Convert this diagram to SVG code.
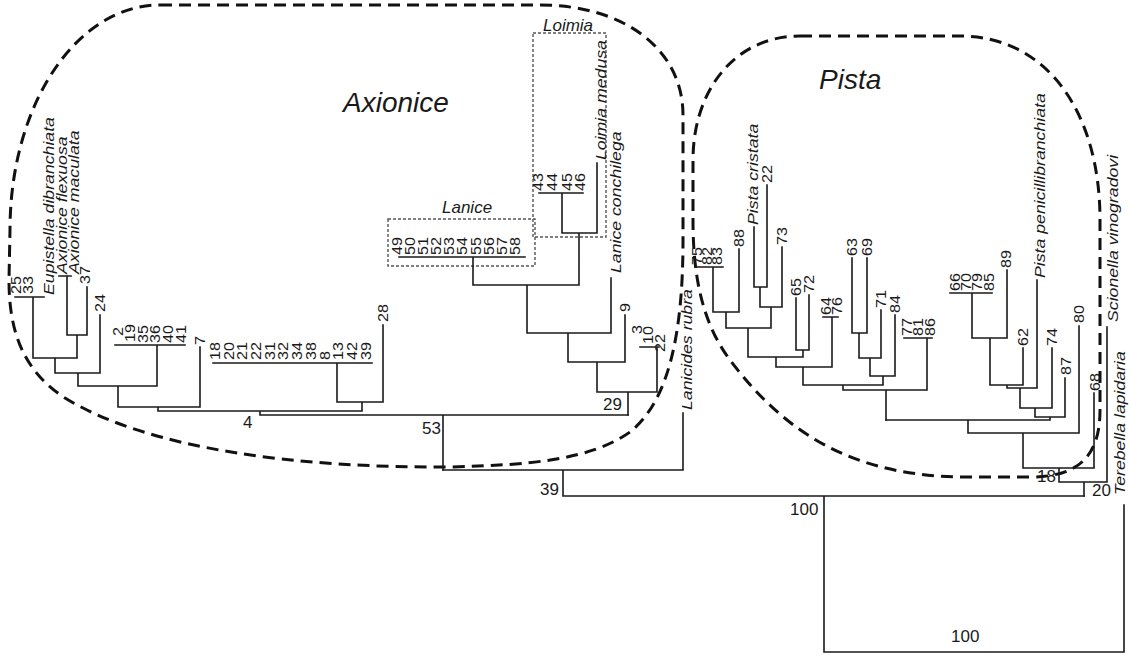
<svg xmlns="http://www.w3.org/2000/svg" width="1129" height="655" viewBox="0 0 1129 655">
<style>
.t{fill:none;stroke:#1a1a1a;stroke-width:1.6;stroke-linecap:square}
.o{fill:none;stroke:#111;stroke-width:3;stroke-dasharray:12 7}
.b{fill:none;stroke:#555;stroke-width:1.4;stroke-dasharray:3 2}
text{font-family:"Liberation Sans",Arial,sans-serif;fill:#1a1a1a}
.n{font-size:14px}
.s{font-size:15px;font-style:italic}
.v{font-size:17px}
.g{font-size:28px;font-style:italic}
.l{font-size:17px;font-style:italic}
</style>
<rect width="1129" height="655" fill="#fff"/>
<g id="outlines">
<path class="o" d="M160,5 L540,5 C625,5 683,50 683,115 L683,240 C683,330 670,400 630,432 C590,460 530,465 450,467 C300,468 150,450 65,398 C22,370 9,330 9,280 L10,230 C10,104 77,5 160,5 Z"/>
<path class="o" d="M800,36 L960,36 C1045,36 1100,110 1100,220 L1100,410 C1100,455 1080,477 1030,477 L960,477 C860,475 790,440 730,360 C700,320 693,270 693,220 L693,160 C693,90 735,36 800,36 Z"/>
<rect class="b" x="388" y="219" width="147" height="47"/>
<rect class="b" x="533" y="33" width="73" height="204"/>
</g>
<g id="connectors">
<path class="t" d="M15,297H44 M33,297V358 M59,276H71 M67,276V335 M87,287V335 M67,335H87 M77,335V358 M33,358H77 M55,358V373 M100,315V373 M55,373H100 M78,373V386 M115,345H185 M157,345V386 M78,386H157 M118,386V407 M200,347V407 M118,407H200 M158,407V411 M213,363H372 M337,363V402 M383,325V402 M337,402H383 M362,402V411 M158,411H362 M260,411V415 M260,415H628 M443,415V470"/>
<path class="t" d="M399,257H525 M473,257V285 M539,193H583 M562,193V233 M597,163V233 M562,233H597 M579,233V285 M473,285H579 M527,285V333 M611,278V333 M527,333H611 M568,333V362 M625,315V362 M568,362H625 M597,362V392 M640,347H659 M657,347V392 M597,392H657 M628,392V415"/>
<path class="t" d="M443,470H683 M683,413V470 M563,470V496 M563,496H1084 M824,496V652 M824,652H1124 M1124,505V652"/>
<path class="t" d="M695,267H723 M713,267V312 M739,249V312 M713,312H739 M726,312V328 M754,227V287 M767,185V287 M754,287H767 M760,287V307 M782,247V307 M760,307H782 M771,307V328 M726,328H771 M748,328V357 M796,298V350 M809,295V350 M796,350H809 M803,350V357 M748,357H803 M776,357V367 M823,317H838 M832,317V367 M776,367H832 M803,367V385 M852,258V333 M867,258V333 M852,333H867 M859,333V358 M881,310V358 M859,358H881 M870,358V376 M895,315V376 M870,376H895 M883,376V385 M803,385H883 M843,385V390 M904,338H932 M927,338V390 M843,390H927 M886,390V420"/>
<path class="t" d="M950,293H992 M972,293V338 M1007,270V338 M972,338H1007 M990,338V385 M1023,348V385 M990,385H1023 M1007,385V388 M1037,280V388 M1007,388H1037 M1020,388V408 M1052,348V408 M1020,408H1052 M1035,408V417 M1065,378V417 M1035,417H1065 M1050,417V420 M886,420H1050 M968,420V433 M1079,326V433 M968,433H1079 M1023,433V468 M1094,393V468 M1023,468H1094 M1059,468V482 M1107,327V482 M1059,482H1107 M1084,482V496"/>
</g>
<g id="group-labels">
<text class="g" x="343" y="112">Axionice</text>
<text class="g" x="819" y="89">Pista</text>
<text class="l" x="442" y="213">Lanice</text>
<text class="l" x="543" y="31">Loimia</text>
</g>
<g id="support">
<text class="v" x="243" y="428">4</text>
<text class="v" x="422" y="434">53</text>
<text class="v" x="603" y="410">29</text>
<text class="v" x="540" y="495">39</text>
<text class="v" x="790" y="515">100</text>
<text class="v" x="951" y="642">100</text>
<text class="v" x="1092" y="496">20</text>
<text class="v" x="1037" y="482">18</text>
</g>
<g id="taxa-axionice">
<text class="n" transform="translate(21,294) rotate(-90) scale(1.15,1)">25</text>
<text class="n" transform="translate(33,294) rotate(-90) scale(1.15,1)">33</text>
<text class="s" transform="translate(54,295) rotate(-90) scale(1.18,1)">Eupistella dibranchiata</text>
<text class="s" transform="translate(67,274) rotate(-90) scale(1.18,1)">Axionice flexuosa</text>
<text class="s" transform="translate(79,274) rotate(-90) scale(1.18,1)">Axionice maculata</text>
<text class="n" transform="translate(90,284) rotate(-90) scale(1.15,1)">37</text>
<text class="n" transform="translate(105,312) rotate(-90) scale(1.15,1)">24</text>
<text class="n" transform="translate(123,336) rotate(-90) scale(1.15,1)">2</text>
<text class="n" transform="translate(135,342) rotate(-90) scale(1.15,1)">19</text>
<text class="n" transform="translate(148,343) rotate(-90) scale(1.15,1)">35</text>
<text class="n" transform="translate(160,343) rotate(-90) scale(1.15,1)">36</text>
<text class="n" transform="translate(173,343) rotate(-90) scale(1.15,1)">40</text>
<text class="n" transform="translate(186,343) rotate(-90) scale(1.15,1)">41</text>
<text class="n" transform="translate(205,345) rotate(-90) scale(1.15,1)">7</text>
<text class="n" transform="translate(220,360) rotate(-90) scale(1.15,1)">18</text>
<text class="n" transform="translate(234,360) rotate(-90) scale(1.15,1)">20</text>
<text class="n" transform="translate(247,360) rotate(-90) scale(1.15,1)">21</text>
<text class="n" transform="translate(261,360) rotate(-90) scale(1.15,1)">22</text>
<text class="n" transform="translate(275,360) rotate(-90) scale(1.15,1)">31</text>
<text class="n" transform="translate(288,360) rotate(-90) scale(1.15,1)">32</text>
<text class="n" transform="translate(302,360) rotate(-90) scale(1.15,1)">34</text>
<text class="n" transform="translate(316,360) rotate(-90) scale(1.15,1)">38</text>
<text class="n" transform="translate(330,360) rotate(-90) scale(1.15,1)">8</text>
<text class="n" transform="translate(343,360) rotate(-90) scale(1.15,1)">13</text>
<text class="n" transform="translate(357,360) rotate(-90) scale(1.15,1)">42</text>
<text class="n" transform="translate(371,360) rotate(-90) scale(1.15,1)">39</text>
<text class="n" transform="translate(388,322) rotate(-90) scale(1.15,1)">28</text>
</g>
<g id="taxa-lanice-loimia">
<text class="n" transform="translate(402,255) rotate(-90) scale(1.15,1)">49</text>
<text class="n" transform="translate(415,255) rotate(-90) scale(1.15,1)">50</text>
<text class="n" transform="translate(428,255) rotate(-90) scale(1.15,1)">51</text>
<text class="n" transform="translate(441,255) rotate(-90) scale(1.15,1)">52</text>
<text class="n" transform="translate(454,255) rotate(-90) scale(1.15,1)">53</text>
<text class="n" transform="translate(467,255) rotate(-90) scale(1.15,1)">54</text>
<text class="n" transform="translate(481,255) rotate(-90) scale(1.15,1)">55</text>
<text class="n" transform="translate(494,255) rotate(-90) scale(1.15,1)">56</text>
<text class="n" transform="translate(507,255) rotate(-90) scale(1.15,1)">57</text>
<text class="n" transform="translate(520,255) rotate(-90) scale(1.15,1)">58</text>
<text class="n" transform="translate(543,191) rotate(-90) scale(1.15,1)">43</text>
<text class="n" transform="translate(557,191) rotate(-90) scale(1.15,1)">44</text>
<text class="n" transform="translate(572,191) rotate(-90) scale(1.15,1)">45</text>
<text class="n" transform="translate(585,191) rotate(-90) scale(1.15,1)">46</text>
<text class="s" transform="translate(606,160) rotate(-90) scale(1.18,1)">Loimia medusa</text>
<text class="s" transform="translate(621,273) rotate(-90) scale(1.18,1)">Lanice conchilega</text>
<text class="n" transform="translate(630,312) rotate(-90) scale(1.15,1)">9</text>
<text class="n" transform="translate(642,334) rotate(-90) scale(1.15,1)">3</text>
<text class="n" transform="translate(653,344) rotate(-90) scale(1.15,1)">10</text>
<text class="n" transform="translate(665,352) rotate(-90) scale(1.15,1)">22</text>
<text class="s" transform="translate(692,410) rotate(-90) scale(1.18,1)">Lanicides rubra</text>
</g>
<g id="taxa-pista">
<text class="n" transform="translate(702,265) rotate(-90) scale(1.15,1)">75</text>
<text class="n" transform="translate(712,265) rotate(-90) scale(1.15,1)">82</text>
<text class="n" transform="translate(722,265) rotate(-90) scale(1.15,1)">83</text>
<text class="n" transform="translate(744,247) rotate(-90) scale(1.15,1)">88</text>
<text class="s" transform="translate(758,225) rotate(-90) scale(1.18,1)">Pista cristata</text>
<text class="n" transform="translate(772,183) rotate(-90) scale(1.15,1)">22</text>
<text class="n" transform="translate(787,245) rotate(-90) scale(1.15,1)">73</text>
<text class="n" transform="translate(801,296) rotate(-90) scale(1.15,1)">65</text>
<text class="n" transform="translate(814,293) rotate(-90) scale(1.15,1)">72</text>
<text class="n" transform="translate(831,315) rotate(-90) scale(1.15,1)">64</text>
<text class="n" transform="translate(842,315) rotate(-90) scale(1.15,1)">76</text>
<text class="n" transform="translate(857,256) rotate(-90) scale(1.15,1)">63</text>
<text class="n" transform="translate(872,256) rotate(-90) scale(1.15,1)">69</text>
<text class="n" transform="translate(886,308) rotate(-90) scale(1.15,1)">71</text>
<text class="n" transform="translate(900,313) rotate(-90) scale(1.15,1)">84</text>
<text class="n" transform="translate(912,336) rotate(-90) scale(1.15,1)">77</text>
<text class="n" transform="translate(923,336) rotate(-90) scale(1.15,1)">81</text>
<text class="n" transform="translate(935,336) rotate(-90) scale(1.15,1)">86</text>
<text class="n" transform="translate(960,291) rotate(-90) scale(1.15,1)">66</text>
<text class="n" transform="translate(971,291) rotate(-90) scale(1.15,1)">70</text>
<text class="n" transform="translate(982,291) rotate(-90) scale(1.15,1)">79</text>
<text class="n" transform="translate(994,291) rotate(-90) scale(1.15,1)">85</text>
<text class="n" transform="translate(1011,268) rotate(-90) scale(1.15,1)">89</text>
<text class="n" transform="translate(1028,346) rotate(-90) scale(1.15,1)">62</text>
<text class="s" transform="translate(1045,278) rotate(-90) scale(1.18,1)">Pista penicillibranchiata</text>
<text class="n" transform="translate(1057,346) rotate(-90) scale(1.15,1)">74</text>
<text class="n" transform="translate(1071,375) rotate(-90) scale(1.15,1)">87</text>
<text class="n" transform="translate(1084,323) rotate(-90) scale(1.15,1)">80</text>
<text class="n" transform="translate(1100,391) rotate(-90) scale(1.15,1)">68</text>
<text class="s" transform="translate(1118,322) rotate(-90) scale(1.18,1)">Scionella vinogradovi</text>
<text class="s" transform="translate(1125,495) rotate(-90) scale(1.18,1)">Terebella lapidaria</text>
</g>
</svg>
